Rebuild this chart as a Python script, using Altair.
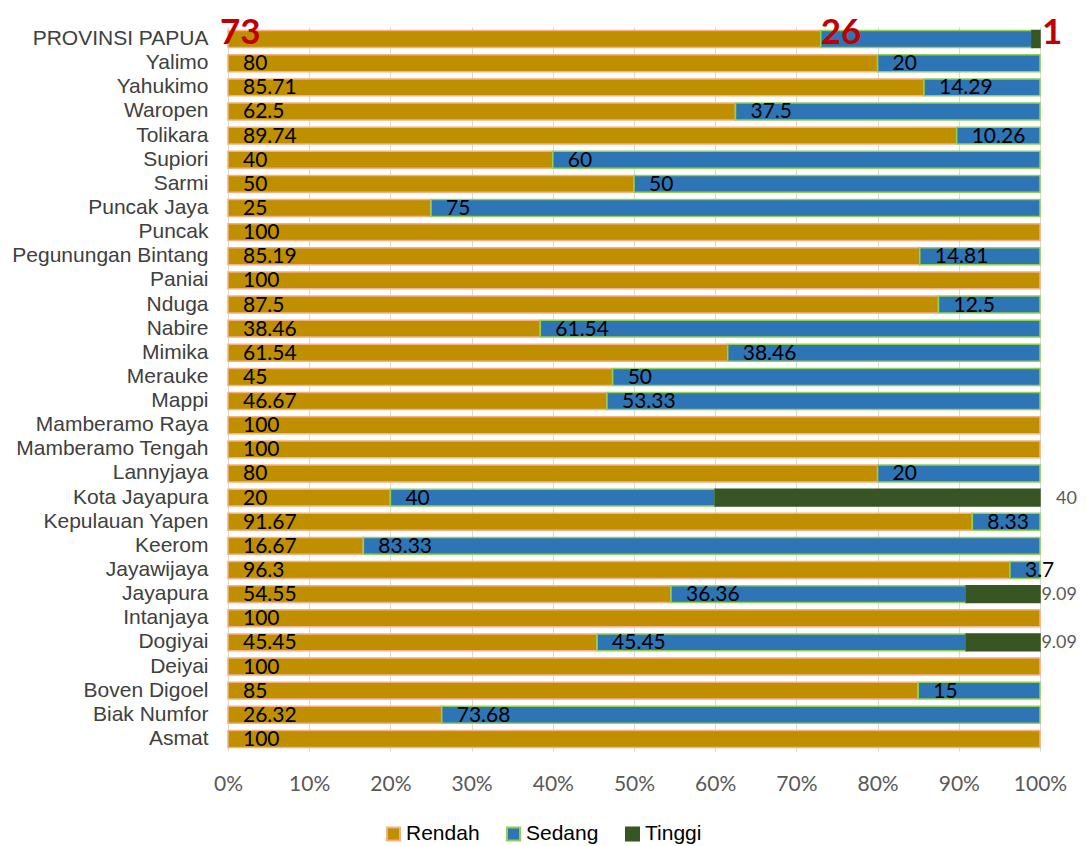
import altair as alt
import pandas as pd

regions = ["PROVINSI PAPUA", "Yalimo", "Yahukimo", "Waropen", "Tolikara", "Supiori", "Sarmi",
           "Puncak Jaya", "Puncak", "Pegunungan Bintang", "Paniai", "Nduga", "Nabire", "Mimika",
           "Merauke", "Mappi", "Mamberamo Raya", "Mamberamo Tengah", "Lannyjaya", "Kota Jayapura",
           "Kepulauan Yapen", "Keerom", "Jayawijaya", "Jayapura", "Intanjaya", "Dogiyai", "Deiyai",
           "Boven Digoel", "Biak Numfor", "Asmat"]
rendah = [73, 80, 85.71, 62.5, 89.74, 40, 50, 25, 100, 85.19, 100, 87.5, 38.46, 61.54,
          45, 46.67, 100, 100, 80, 20, 91.67, 16.67, 96.3, 54.55, 100, 45.45, 100, 85, 26.32, 100]
sedang = [26, 20, 14.29, 37.5, 10.26, 60, 50, 75, 0, 14.81, 0, 12.5, 61.54, 38.46,
          50, 53.33, 0, 0, 20, 40, 8.33, 83.33, 3.7, 36.36, 0, 45.45, 0, 15, 73.68, 0]
tinggi = [1, 0, 0, 0, 0, 0, 0, 0, 0, 0, 0, 0, 0, 0,
          0, 0, 0, 0, 0, 40, 0, 0, 0, 9.09, 0, 9.09, 0, 0, 0, 0]
levels = ["Rendah", "Sedang", "Tinggi"]
fill_colors = ["#BF8F00", "#2E75B6", "#375623"]
stroke_colors = ["#F4B183", "#92D050", "#375623"]
tick_values = [0, 0.1, 0.2, 0.3, 0.4, 0.5, 0.6, 0.7, 0.8, 0.9, 1.0]

rows = []
for i, r in enumerate(regions):
    vals = [rendah[i], sedang[i], tinggi[i]]
    total = sum(vals)
    cum = 0.0
    for k, lev in enumerate(levels):
        v = vals[k]
        if v > 0:
            rows.append(dict(region=r, level=lev, k=k, value=v,
                             start=cum / total, end=(cum + v) / total,
                             label=f"{v:g}", prov=(i == 0)))
        cum += v
df = pd.DataFrame(rows)

xscale = alt.Scale(domain=[0, 1], nice=False, zero=False)
yscale = alt.Scale(paddingInner=0.3, paddingOuter=0.15)
ysort = regions

leg = alt.Legend(title=None, orient="none", legendX=155, legendY=796, direction="horizontal",
                 symbolType="square", symbolSize=170, symbolStrokeWidth=2,
                 labelFont="Liberation Sans", labelFontSize=21, labelColor="#000000",
                 labelOffset=2, columnPadding=22)

base = alt.Chart(df)

bars = base.mark_bar(strokeWidth=1.5).encode(
    y=alt.Y("region:N", sort=ysort, scale=yscale,
            axis=alt.Axis(title=None, labelFont="Liberation Sans", labelFontSize=21,
                          labelColor="#404040", ticks=False, tickSize=0, domain=False,
                          labelPadding=20, labelLimit=400, grid=False)),
    x=alt.X("start:Q", scale=xscale,
            axis=alt.Axis(title=None, format="%", values=tick_values, grid=True,
                          gridColor="#D9D9D9", gridWidth=1, domain=False, ticks=False,
                          tickSize=0, labelFont="Lato", labelFontSize=21,
                          labelColor="#595959", labelPadding=22, labelFlush=False)),
    x2="end:Q",
    fill=alt.Fill("level:N", scale=alt.Scale(domain=levels, range=fill_colors), legend=leg),
    stroke=alt.Stroke("level:N", scale=alt.Scale(domain=levels, range=stroke_colors), legend=leg),
    order=alt.Order("k:Q"),
)

inside = base.transform_filter(
    "!datum.prov && datum.level != 'Tinggi'"
).mark_text(align="left", baseline="middle", dx=15, dy=1, font="Lato", fontSize=21,
            color="#000000").encode(
    y=alt.Y("region:N", sort=ysort, scale=yscale),
    x=alt.X("start:Q", scale=xscale),
    text="label:N",
)

outside = base.transform_filter(
    "!datum.prov && datum.level == 'Tinggi'"
).mark_text(align="right", baseline="middle", dx=37, dy=1, font="Lato", fontSize=18,
            color="#595959").encode(
    y=alt.Y("region:N", sort=ysort, scale=yscale),
    x=alt.X("end:Q", scale=xscale),
    text="label:N",
)

prov_layers = []
prov_dx = {"Rendah": -8, "Sedang": 0, "Tinggi": 2}
prov_field = {"Rendah": "start", "Sedang": "start", "Tinggi": "end"}
for lev in levels:
    prov_layers.append(
        base.transform_filter(f"datum.prov && datum.level == '{lev}'")
        .mark_text(align="left", baseline="alphabetic", dx=prov_dx[lev], dy=5,
                   font="Lato", fontSize=35, fontWeight="bold", color="#C00000")
        .encode(
            y=alt.Y("region:N", sort=ysort, scale=yscale),
            x=alt.X(f"{prov_field[lev]}:Q", scale=xscale),
            text="label:N",
        )
    )

chart = alt.layer(bars, inside, outside, *prov_layers).properties(
    width=812, height=724,
    autosize="none",
    padding={"left": 220, "top": 19, "right": 38, "bottom": 95},
).configure_view(stroke=None)

chart.save("out.html", embed_options={"renderer": "svg", "actions": False})
